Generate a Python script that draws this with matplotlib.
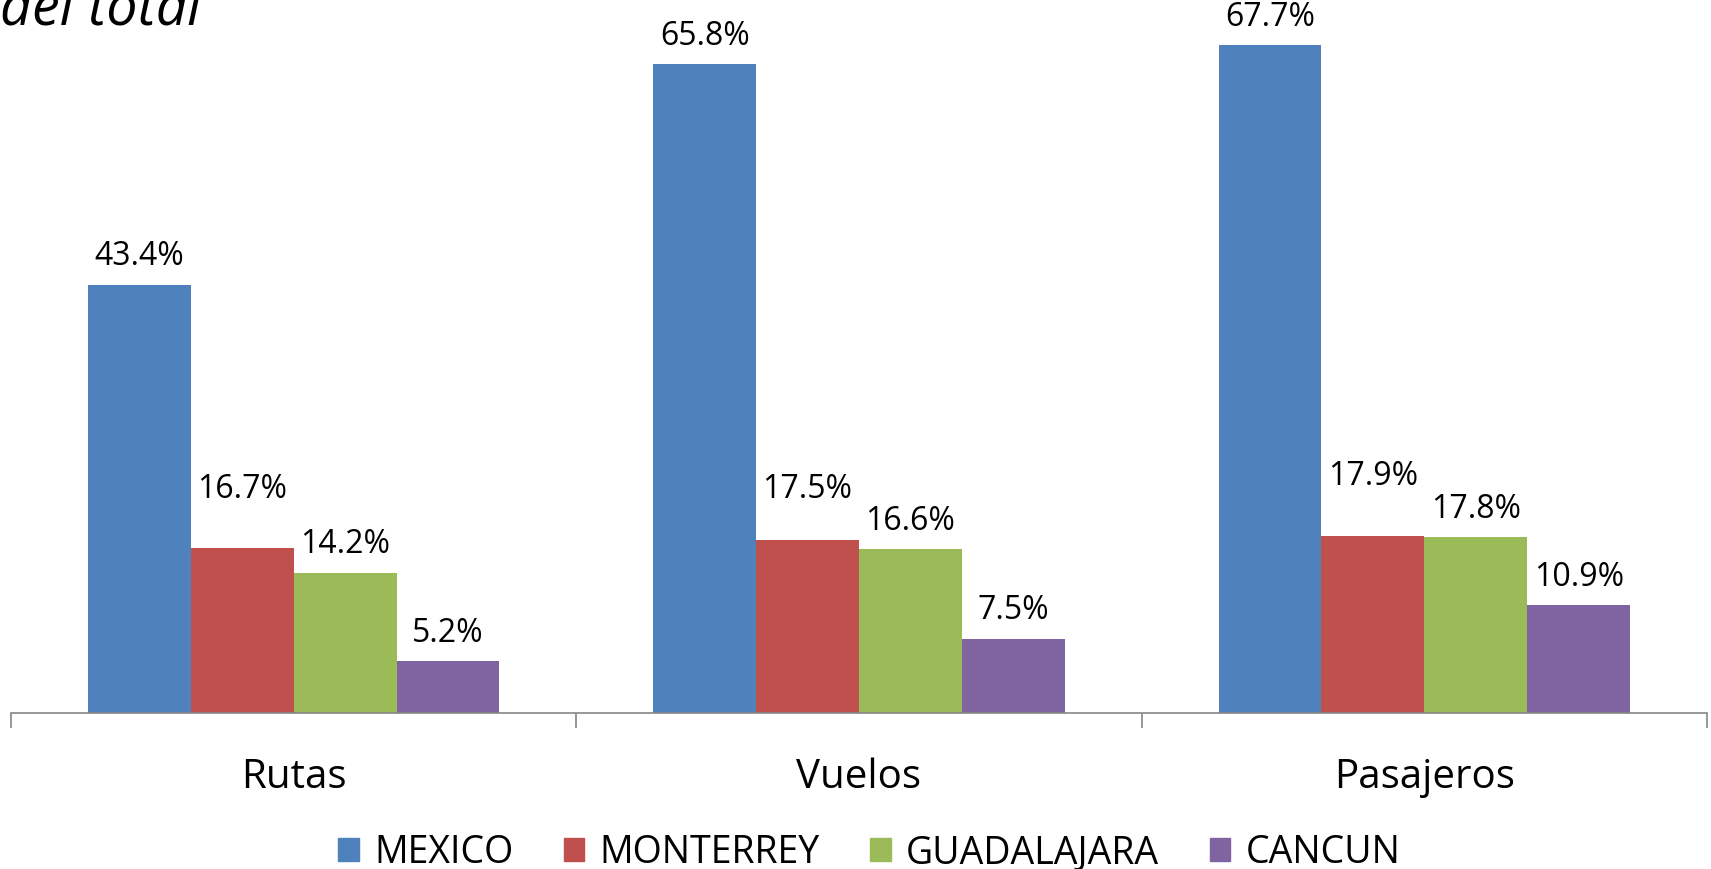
import matplotlib
matplotlib.use("Agg")
import matplotlib.pyplot as plt
from matplotlib.patches import Rectangle
import numpy as np

plt.rcParams['font.family'] = ['Open Sans', 'DejaVu Sans']

categories = ["Rutas", "Vuelos", "Pasajeros"]
series_names = ["MEXICO", "MONTERREY", "GUADALAJARA", "CANCUN"]
mexico = [43.4, 65.8, 67.7]
monterrey = [16.7, 17.5, 17.9]
guadalajara = [14.2, 16.6, 17.8]
cancun = [5.2, 7.5, 10.9]
colors = ["#4F81BD", "#C0504D", "#9BBB59", "#8064A2"]

# extra label lift (points) used to avoid overlap, per series/category
label_lift = [[0, 0, 0], [22, 16, 23], [0, 0, 0], [0, 0, 0]]

series = [mexico, monterrey, guadalajara, cancun]

fig = plt.figure(figsize=(17.11, 8.69), dpi=100)
ax = fig.add_axes([11/1711, 1 - 712.6/869, (1707-11)/1711, 712.6/869])

x = np.arange(len(categories))
bw = 0.728 / 4
for i, (vals, col) in enumerate(zip(series, colors)):
    xs = x + (i - 1.5) * bw
    ax.bar(xs, vals, width=bw, color=col, linewidth=0, zorder=2)
    for j, (xx, v) in enumerate(zip(xs, vals)):
        ax.annotate(f"{v:.1f}%", (xx, v), xytext=(0, 14 + label_lift[i][j]),
                    textcoords="offset points", ha="center", va="baseline",
                    fontsize=23, color="black")

ax.set_xlim(-0.5, 2.5)
ax.set_ylim(0, 72.3)
for s in ["left", "right", "top"]:
    ax.spines[s].set_visible(False)
ax.spines["bottom"].set_color("#868686")
ax.spines["bottom"].set_linewidth(1.2)
ax.set_yticks([])
ax.set_xticks(x)
ax.set_xticklabels(categories, fontsize=29)
ax.tick_params(axis="x", which="major", length=0, pad=32)
ax.set_xticks([-0.5, 0.5, 1.5, 2.5], minor=True)
ax.tick_params(axis="x", which="minor", length=11, width=1.2, color="#868686")
ax.patch.set_visible(False)

fig.text(0.0, 1 - 25/869, "del total", fontsize=40, style="italic",
         ha="left", va="baseline")

handles = [Rectangle((0, 0), 1, 1, color=c) for c in colors]
fig.legend(handles, series_names, loc="center", bbox_to_anchor=(0.508, 1 - 853/869),
           ncol=4, frameon=False, fontsize=27, handlelength=0.55, handleheight=0.55,
           handletextpad=0.4, columnspacing=1.35)

fig.savefig("out.png", dpi=100)
